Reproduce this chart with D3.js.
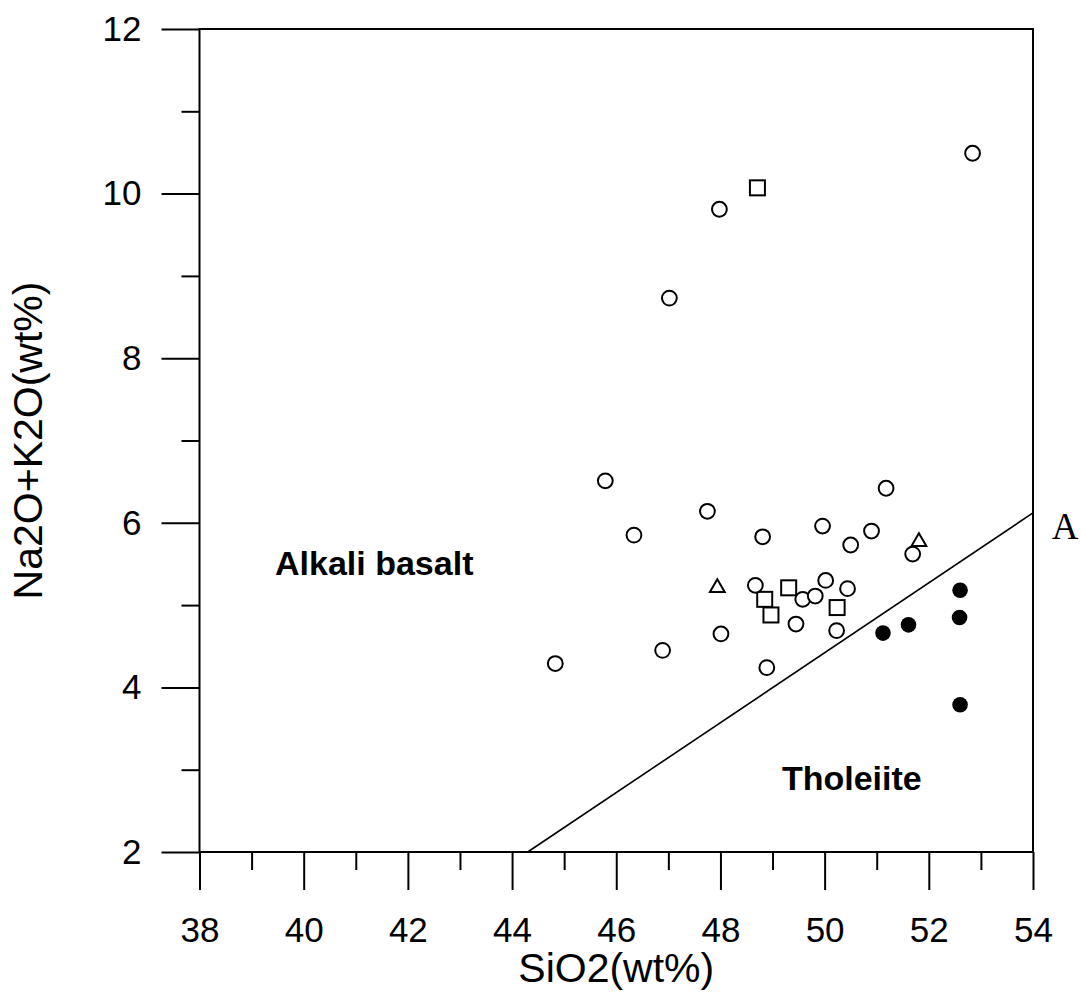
<!DOCTYPE html>
<html>
<head>
<meta charset="utf-8">
<script src="https://cdn.jsdelivr.net/npm/d3@7/dist/d3.min.js"></script>
<style>
  html, body { margin: 0; padding: 0; background: #fff; }
  svg { display: block; }
</style>
</head>
<body>
<svg id="chart" width="1081" height="996"></svg>
<script>
// ---- Data ----
const xMajorTicks = [38, 40, 42, 44, 46, 48, 50, 52, 54];
const xMinorTicks = [39, 41, 43, 45, 47, 49, 51, 53];
const yMajorTicks = [2, 4, 6, 8, 10, 12];
const yMinorTicks = [3, 5, 7, 9, 11];

const openCircleSiO2 = [52.84, 47.98, 47.02, 45.79, 47.75, 46.34, 48.81, 49.96, 51.18, 50.90, 50.50, 51.69, 48.67, 50.02, 50.44, 49.58, 49.82, 49.45, 48.01, 50.23, 46.89, 44.83, 48.89];
const openCircleAlk  = [10.49, 9.81, 8.73, 6.51, 6.14, 5.85, 5.83, 5.96, 6.42, 5.90, 5.73, 5.62, 5.24, 5.30, 5.20, 5.07, 5.11, 4.77, 4.65, 4.69, 4.45, 4.29, 4.24];

const squareSiO2 = [48.71, 49.31, 48.85, 48.97, 50.24];
const squareAlk  = [10.07, 5.21, 5.07, 4.88, 4.97];

const triangleSiO2 = [47.94, 51.81];
const triangleAlk  = [5.21, 5.77];

const filledSiO2 = [51.12, 51.61, 52.60, 52.59, 52.60];
const filledAlk  = [4.66, 4.76, 5.18, 4.85, 3.79];

// dividing line (Alkali basalt / Tholeiite)
const boundarySiO2 = [44.3, 54];
const boundaryAlk  = [2, 6.12];

const regionLabels = ["Alkali basalt", "Tholeiite", "A"];
const regionLabelSiO2 = [39.45, 49.18, 54.36];
const regionLabelAlk  = [5.36, 2.75, 5.80];

// ---- Chart ----
const svg = d3.select("#chart");
const x = d3.scaleLinear().domain([38, 54]).range([199.5, 1033]);
const y = d3.scaleLinear().domain([2, 12]).range([852, 29]);

const ink = "#000";

// Frame
svg.append("rect")
  .attr("x", x(38)).attr("y", y(12))
  .attr("width", x(54) - x(38)).attr("height", y(2) - y(12))
  .attr("fill", "none").attr("stroke", ink).attr("stroke-width", 2);

// X axis major / minor
const xAxisMajor = svg.append("g")
  .attr("transform", `translate(0,${y(2)})`)
  .call(d3.axisBottom(x).tickValues(xMajorTicks).tickSize(38).tickPadding(27).tickFormat(d3.format("d")));
const xAxisMinor = svg.append("g")
  .attr("transform", `translate(0,${y(2)})`)
  .call(d3.axisBottom(x).tickValues(xMinorTicks).tickSize(18).tickFormat(""));

// Y axis major / minor
const yAxisMajor = svg.append("g")
  .attr("transform", `translate(${x(38)},0)`)
  .call(d3.axisLeft(y).tickValues(yMajorTicks).tickSize(38).tickPadding(20).tickFormat(d3.format("d")));
const yAxisMinor = svg.append("g")
  .attr("transform", `translate(${x(38)},0)`)
  .call(d3.axisLeft(y).tickValues(yMinorTicks).tickSize(18).tickFormat(""));

[xAxisMajor, xAxisMinor, yAxisMajor, yAxisMinor].forEach(g => {
  g.select(".domain").remove();
  g.selectAll(".tick line").attr("stroke", ink).attr("stroke-width", 2);
  g.selectAll(".tick text")
    .attr("fill", ink)
    .style("font-family", "'Liberation Sans', Arial, sans-serif")
    .style("font-size", "35px");
});

// Axis titles
svg.append("text")
  .attr("x", (x(38) + x(54)) / 2).attr("y", 982)
  .attr("text-anchor", "middle")
  .style("font-family", "'Liberation Sans', Arial, sans-serif")
  .style("font-size", "41px")
  .attr("fill", ink)
  .text("SiO2(wt%)");

svg.append("text")
  .attr("transform", `translate(28,${(y(2) + y(12)) / 2}) rotate(-90)`)
  .attr("text-anchor", "middle")
  .attr("dominant-baseline", "central")
  .style("font-family", "'Liberation Sans', Arial, sans-serif")
  .style("font-size", "41px")
  .attr("fill", ink)
  .text("Na2O+K2O(wt%)");

// Boundary line
svg.append("line")
  .attr("x1", x(boundarySiO2[0])).attr("y1", y(boundaryAlk[0]))
  .attr("x2", x(boundarySiO2[1])).attr("y2", y(boundaryAlk[1]))
  .attr("stroke", ink).attr("stroke-width", 1.6);

// Region labels
svg.selectAll("text.region")
  .data(regionLabels)
  .enter().append("text")
  .attr("class", "region")
  .attr("x", (d, i) => x(regionLabelSiO2[i]))
  .attr("y", (d, i) => y(regionLabelAlk[i]))
  .attr("text-anchor", "start")
  .style("font-family", (d, i) => i === 2 ? "'Liberation Serif', 'Times New Roman', serif" : "'Liberation Sans', Arial, sans-serif")
  .style("font-weight", (d, i) => i === 2 ? "normal" : "bold")
  .style("font-size", (d, i) => i === 2 ? "37px" : "34px")
  .attr("fill", ink)
  .text(d => d);

// Markers
const sqData = squareSiO2.map((v, i) => [v, squareAlk[i]]);
const ocData = openCircleSiO2.map((v, i) => [v, openCircleAlk[i]]);
const trData = triangleSiO2.map((v, i) => [v, triangleAlk[i]]);
const fcData = filledSiO2.map((v, i) => [v, filledAlk[i]]);

svg.append("g").selectAll("rect")
  .data(sqData).enter().append("rect")
  .attr("x", d => x(d[0]) - 7.5).attr("y", d => y(d[1]) - 7.5)
  .attr("width", 15).attr("height", 15)
  .attr("fill", "#fff").attr("stroke", ink).attr("stroke-width", 2);

svg.append("g").selectAll("circle")
  .data(ocData).enter().append("circle")
  .attr("cx", d => x(d[0])).attr("cy", d => y(d[1]))
  .attr("r", 7.4)
  .attr("fill", "#fff").attr("stroke", ink).attr("stroke-width", 2);

const triSym = d3.symbol().type(d3.symbolTriangle).size(95);
svg.append("g").selectAll("path")
  .data(trData).enter().append("path")
  .attr("d", triSym)
  .attr("transform", d => `translate(${x(d[0])},${y(d[1])})`)
  .attr("fill", "#fff").attr("stroke", ink).attr("stroke-width", 2);

svg.append("g").selectAll("circle")
  .data(fcData).enter().append("circle")
  .attr("cx", d => x(d[0])).attr("cy", d => y(d[1]))
  .attr("r", 7.8)
  .attr("fill", ink).attr("stroke", "none");
</script>
</body>
</html>
